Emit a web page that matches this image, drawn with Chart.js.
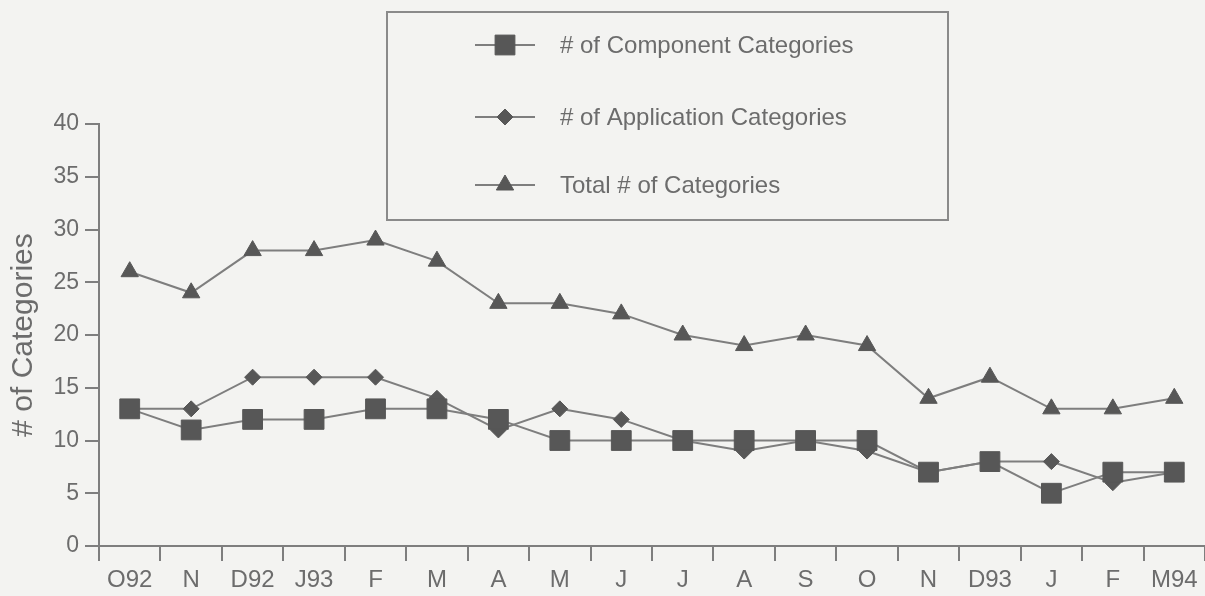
<!DOCTYPE html>
<html>
<head>
<meta charset="utf-8">
<script src="https://cdn.jsdelivr.net/npm/chart.js@4/dist/chart.umd.min.js"></script>
<style>
  html, body { margin: 0; padding: 0; background: #f3f3f1; }
  #wrap { width: 1205px; height: 596px; }
</style>
</head>
<body>
<div id="wrap"><canvas id="chart"></canvas></div>
<script>
const months = ['O92', 'N', 'D92', 'J93', 'F', 'M', 'A', 'M', 'J', 'J', 'A', 'S', 'O', 'N', 'D93', 'J', 'F', 'M94'];
const componentCats = [13, 11, 12, 12, 13, 13, 12, 10, 10, 10, 10, 10, 10, 7, 8, 5, 7, 7];
const applicationCats = [13, 13, 16, 16, 16, 14, 11, 13, 12, 10, 9, 10, 9, 7, 8, 8, 6, 7];
const totalCats = [26, 24, 28, 28, 29, 27, 23, 23, 22, 20, 19, 20, 19, 14, 16, 13, 13, 14];
const yTicks = [0, 5, 10, 15, 20, 25, 30, 35, 40];

const ink = '#575757';
const lineGray = '#7e7e7e';
const textGray = '#6c6c6c';
const font = "'Liberation Sans', Arial, sans-serif";

// legend box drawn inside the plot, like the scanned original
const boxLegend = {
  id: 'boxLegend',
  afterDraw(chart) {
    const ctx = chart.ctx;
    ctx.save();
    ctx.strokeStyle = '#8a8a8a';
    ctx.lineWidth = 2;
    ctx.strokeRect(387, 12, 561, 208);
    const rows = [45, 117, 185];
    chart.data.datasets.forEach((ds, i) => {
      const y = rows[i];
      ctx.strokeStyle = lineGray;
      ctx.lineWidth = 2;
      ctx.beginPath();
      ctx.moveTo(475, y);
      ctx.lineTo(535, y);
      ctx.stroke();
      ctx.fillStyle = ink;
      ctx.strokeStyle = ink;
      ctx.lineWidth = 1;
      Chart.helpers.drawPoint(ctx, { pointStyle: ds.pointStyle, radius: ds.pointRadius, rotation: 0, borderWidth: 1 }, 505, y);
      ctx.fillStyle = textGray;
      ctx.font = '24px ' + font;
      ctx.textBaseline = 'middle';
      ctx.fillText(ds.label, 560, y + 1);
    });
    ctx.restore();
  }
};

const mk = (label, data, style, r) => ({
  label, data,
  borderColor: lineGray,
  borderWidth: 2,
  pointStyle: style,
  pointRadius: r,
  pointBackgroundColor: ink,
  pointBorderColor: ink,
  pointBorderWidth: 1,
  tension: 0,
  fill: false
});

new Chart(document.getElementById('chart'), {
  type: 'line',
  data: {
    labels: months,
    datasets: [
      mk('# of Component Categories', componentCats, 'rect', 14),
      mk('# of Application Categories', applicationCats, 'rectRot', 8),
      mk('Total # of Categories', totalCats, 'triangle', 10)
    ]
  },
  options: {
    responsive: true,
    maintainAspectRatio: false,
    animation: false,
    layout: { autoPadding: false, padding: { top: 124, left: 0, right: 0, bottom: 0 } },
    plugins: { legend: { display: false }, tooltip: { enabled: false } },
    scales: {
      x: {
        offset: true,
        grid: { offset: true, drawOnChartArea: false, drawTicks: true, tickLength: 15, color: lineGray, lineWidth: 2 },
        border: { display: true, color: lineGray, width: 2 },
        ticks: { color: textGray, font: { family: font, size: 24 }, padding: 5, maxRotation: 0, autoSkip: false },
        afterFit(scale) {
          scale.height = 50;
          scale.paddingLeft = 0;
          scale.paddingRight = 0;
        }
      },
      y: {
        min: 0,
        max: 40,
        afterBuildTicks(scale) { scale.ticks = yTicks.map(v => ({ value: v })); },
        grid: { drawOnChartArea: false, drawTicks: true, tickLength: 14, color: lineGray, lineWidth: 2 },
        border: { display: true, color: lineGray, width: 2 },
        ticks: { color: textGray, font: { family: font, size: 23 }, padding: 6 },
        title: { display: true, text: '# of Categories', color: textGray, font: { family: font, size: 30 }, padding: { top: 6, bottom: 0 } },
        afterFit(scale) { scale.width = 99; }
      }
    }
  },
  plugins: [boxLegend]
});
</script>
</body>
</html>
